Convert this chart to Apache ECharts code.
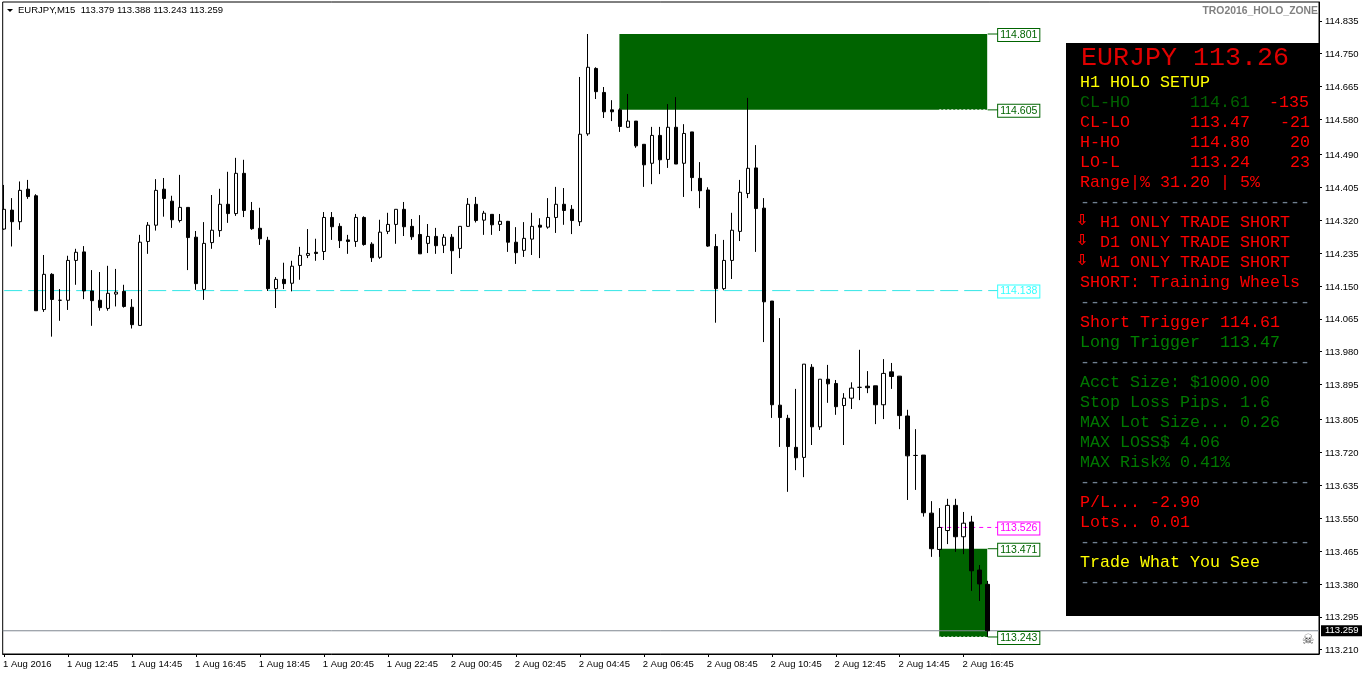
<!DOCTYPE html>
<html><head><meta charset="utf-8">
<style>html,body{margin:0;padding:0;background:#fff}#c{width:1362px;height:675px}</style>
<script src="https://cdn.jsdelivr.net/npm/echarts@6/dist/echarts.min.js"></script>
</head><body><div id="c"></div>
<script>
const opens=[114.297,114.346,114.316,114.400,114.383,114.089,114.180,114.113,114.113,114.216,114.238,114.137,114.113,114.092,114.129,114.136,114.095,114.048,114.265,114.307,114.400,114.369,114.319,114.353,114.276,114.141,114.262,114.293,114.361,114.337,114.441,114.345,114.299,114.268,114.143,114.167,114.157,114.203,114.229,114.237,114.239,114.327,114.304,114.269,114.265,114.327,114.258,114.224,114.291,114.309,114.348,114.304,114.283,114.260,114.278,114.255,114.276,114.247,114.304,114.361,114.320,114.335,114.309,114.317,114.263,114.242,114.271,114.307,114.302,114.327,114.361,114.348,114.316,114.543,114.712,114.650,114.605,114.605,114.560,114.576,114.516,114.467,114.539,114.477,114.560,114.467,114.548,114.428,114.398,114.252,114.143,114.216,114.291,114.389,114.455,114.351,114.111,113.842,113.808,113.733,113.707,113.940,113.786,113.909,113.898,113.841,113.860,113.888,113.891,113.892,113.843,113.928,113.917,113.814,113.712,113.713,113.563,113.469,113.518,113.583,113.502,113.540,113.416,113.379];
const highs=[114.411,114.377,114.420,114.424,114.387,114.230,114.183,114.142,114.228,114.246,114.253,114.191,114.186,114.202,114.194,114.153,114.116,114.282,114.315,114.426,114.429,114.383,114.437,114.353,114.292,114.315,114.385,114.401,114.445,114.481,114.476,114.367,114.352,114.277,114.173,114.210,114.215,114.251,114.297,114.272,114.341,114.341,114.312,114.282,114.336,114.330,114.263,114.321,114.339,114.348,114.367,114.323,114.333,114.310,114.300,114.284,114.284,114.304,114.377,114.380,114.344,114.335,114.336,114.318,114.302,114.315,114.339,114.325,114.377,114.406,114.403,114.359,114.690,114.801,114.715,114.664,114.630,114.609,114.646,114.576,114.516,114.561,114.561,114.620,114.638,114.568,114.548,114.470,114.405,114.284,114.269,114.339,114.424,114.636,114.514,114.377,114.111,114.067,113.817,113.884,113.948,113.948,113.909,113.946,113.907,113.873,113.901,113.985,113.930,113.892,113.961,113.951,113.917,113.830,113.780,113.713,113.594,113.576,113.600,113.600,113.566,113.556,113.429,113.388];
const lows=[114.295,114.252,114.295,114.375,114.086,114.083,114.019,114.060,114.088,114.153,114.116,114.047,114.086,114.086,114.097,114.094,114.040,114.048,114.233,114.293,114.329,114.300,114.314,114.191,114.140,114.114,114.246,114.277,114.313,114.331,114.328,114.295,114.256,114.137,114.093,114.142,114.136,114.166,114.222,114.215,114.217,114.269,114.248,114.233,114.251,114.254,114.212,114.220,114.284,114.259,114.279,114.269,114.233,114.235,114.233,114.235,114.181,114.222,114.303,114.314,114.282,114.282,114.292,114.238,114.207,114.225,114.230,114.222,114.298,114.287,114.308,114.284,114.305,114.538,114.633,114.584,114.576,114.548,114.558,114.507,114.406,114.413,114.439,114.455,114.465,114.380,114.395,114.351,114.251,114.055,114.139,114.168,114.266,114.377,114.238,114.005,113.809,113.734,113.618,113.674,113.656,113.739,113.778,113.848,113.817,113.739,113.832,113.855,113.873,113.793,113.806,113.884,113.780,113.597,113.623,113.554,113.450,113.450,113.483,113.463,113.457,113.362,113.336,113.243];
const closes=[114.348,114.316,114.397,114.381,114.086,114.180,114.115,114.113,114.216,114.237,114.137,114.112,114.094,114.131,114.134,114.097,114.050,114.263,114.307,114.397,114.376,114.321,114.353,114.275,114.156,114.260,114.294,114.361,114.337,114.441,114.345,114.298,114.272,114.143,114.167,114.156,114.201,114.229,114.234,114.234,114.327,114.303,114.267,114.265,114.327,114.257,114.223,114.289,114.309,114.348,114.303,114.277,114.233,114.278,114.254,114.276,114.241,114.304,114.361,114.319,114.338,114.308,114.317,114.263,114.236,114.273,114.304,114.302,114.327,114.361,114.345,114.319,114.542,114.715,114.652,114.600,114.600,114.562,114.576,114.512,114.463,114.539,114.476,114.560,114.465,114.544,114.430,114.396,114.253,114.143,114.216,114.294,114.392,114.454,114.350,114.109,113.843,113.810,113.735,113.706,113.948,113.786,113.909,113.897,113.838,113.860,113.886,113.888,113.887,113.843,113.924,113.916,113.815,113.711,113.712,113.564,113.471,113.526,113.583,113.502,113.537,113.414,113.380,113.259];
const timeLabels=["1 Aug 2016","1 Aug 12:45","1 Aug 14:45","1 Aug 16:45","1 Aug 18:45","1 Aug 20:45","1 Aug 22:45","2 Aug 00:45","2 Aug 02:45","2 Aug 04:45","2 Aug 06:45","2 Aug 08:45","2 Aug 10:45","2 Aug 12:45","2 Aug 14:45","2 Aug 16:45"];
const barsPerLabel=8;
const priceTicks=[114.835,114.750,114.665,114.580,114.490,114.405,114.320,114.235,114.150,114.065,113.980,113.895,113.805,113.720,113.635,113.550,113.465,113.380,113.295,113.210];
const zoneHigh=[114.801,114.605], zoneLow=[113.471,113.243];
const zoneHighStart=76.94, zoneLowStart=116.94, zoneEnd=122.94, lastBar=123;
const pivotLevel=114.138, triggerLevel=113.526, lastPrice=113.259;
const headerText="EURJPY,M15  113.379 113.388 113.243 113.259";
const indicatorName="TRO2016_HOLO_ZONE";
const panelTitle="EURJPY 113.26";
const panelLines=["H1 HOLO SETUP","CL-HO      114.61","CL-LO      113.47   -21","H-HO       114.80    20","LO-L       113.24    23","Range|% 31.20 | 5%","-----------------------","  H1 ONLY TRADE SHORT","  D1 ONLY TRADE SHORT","  W1 ONLY TRADE SHORT","SHORT: Training Wheels","-----------------------","Short Trigger 114.61","Long Trigger  113.47","-----------------------","Acct Size: $1000.00","Stop Loss Pips. 1.6","MAX Lot Size... 0.26","MAX LOSS$ 4.06","MAX Risk% 0.41%","-----------------------","P/L... -2.90","Lots.. 0.01","-----------------------","Trade What You See","-----------------------"];
const panelColours=["#ffff00","#006400","#ff0000","#ff0000","#ff0000","#ff0000","#708090","#ff0000","#ff0000","#ff0000","#ff0000","#708090","#ff0000","#008000","#708090","#007800","#007800","#007800","#007800","#007800","#708090","#ff0000","#ff0000","#708090","#ffff00","#708090"];
const holoDiff="-135";
const arrowRows=[7,8,9];

const xMin=-0.1875, xMax=164.4375, labelX=124.31;
const UI="'Liberation Sans',sans-serif", MONO="'Liberation Mono',monospace";
const candles=opens.map((o,i)=>[i,o,closes[i],lows[i],highs[i]]);
const GREEN='#006400';
const tickShift=0.0026;
function boxLabel(text,col,txt){return {show:true,distance:0,offset:[0,1],align:'left',verticalAlign:'middle',formatter:text,color:txt||col,borderColor:col,borderWidth:1,backgroundColor:'#fff',fontFamily:UI,fontSize:10.5,padding:[0,2,0,2],lineHeight:12};}
function level(name,from,to,p,col,dash,width,label){
  const s={name,type:'line',z:1,silent:true,clip:false,symbol:'none',animation:false,
    lineStyle:{color:col,width:width||1,type:dash||'solid'},data:[[from,p],[to,p]]};
  if(label) s.endLabel=label;
  return s;
}
function dotted(name,p){return {name,type:'line',z:1.5,silent:true,symbol:'none',animation:false,lineStyle:{color:'#fff',width:1,type:[2,2]},data:[[zoneLowStart,p],[zoneEnd,p]]};}
const fix=v=>v.toFixed(3);
const series=[
 {name:'zones',type:'line',z:0,data:[],markArea:{silent:true,z:0,itemStyle:{color:GREEN,opacity:1},
   data:[[{xAxis:zoneHighStart,yAxis:zoneHigh[0]},{xAxis:zoneEnd,yAxis:zoneHigh[1]}],[{xAxis:zoneLowStart,yAxis:zoneLow[0]},{xAxis:zoneEnd,yAxis:zoneLow[1]}]]}},
 level('pivot',0,labelX,pivotLevel,'#33e6e6',[18,6],1,boxLabel(fix(pivotLevel),'#33ffff')),
 level('current',xMin,xMax,lastPrice,'#7f8790',null,1,{show:true,distance:2,align:'left',verticalAlign:'middle',formatter:fix(lastPrice),color:'#fff',backgroundColor:'#000',fontFamily:UI,fontSize:9.5,lineHeight:9,padding:[1,4,1,4]}),
 level('trigger',zoneLowStart,labelX,triggerLevel,'#ff00ff',[4,4],1,boxLabel(fix(triggerLevel),'#ff00ff')),
 level('hi1',lastBar,labelX,zoneHigh[0],GREEN,null,1,boxLabel(fix(zoneHigh[0]),GREEN)),
 level('hi2',lastBar,labelX,zoneHigh[1],GREEN,null,1,boxLabel(fix(zoneHigh[1]),GREEN)),
 level('lo1',lastBar,labelX,zoneLow[0],GREEN,null,1,boxLabel(fix(zoneLow[0]),GREEN)),
 level('lo2',lastBar,labelX,zoneLow[1],GREEN,null,1,boxLabel(fix(zoneLow[1]),GREEN)),
 dotted('dotHi',zoneHigh[1]),dotted('dotLo',zoneLow[1]),
 {name:'EURJPY',type:'candlestick',z:2,silent:true,animation:false,barWidth:4,
  encode:{x:0,y:[1,2,3,4]},
  itemStyle:{color:'rgba(255,255,255,0)',color0:'#000',borderColor:'#000',borderColor0:'#000',borderColorDoji:'#000',borderWidth:1},
  data:candles}
];
function txt(x,y,text,fill,font,align,z){return {type:'text',z:z||50,x,y,style:{text,fill,font,align:align||'left',verticalAlign:'middle'}};}
const g=[];
g.push({type:'polygon',z:50,shape:{points:[[7,9],[13,9],[10,12]]},style:{fill:'#000'}});
g.push(txt(18,10.5,headerText,'#000',"9.5px "+UI));
g.push(txt(1318,11,indicatorName,'#808080',"bold 10.4px "+UI,'right'));
g.push({type:'rect',z:50,shape:{x:1066,y:43,width:253,height:573},style:{fill:'#000'}});
g.push(txt(1081,58,panelTitle,'#e00000',"26.67px "+MONO,'left',51));
panelLines.forEach((t,k)=>{g.push(txt(1080,82.7+20*k,t,panelColours[k],"16.67px "+MONO,'left',51));});
g.push(txt(1309,102.7,holoDiff,'#ff0000',"16.67px "+MONO,'right',51));
arrowRows.forEach(k=>{g.push(txt(1076,81+20*k,'\u21E9','#ff0000',"bold 15px 'DejaVu Sans'",'left',51));});
g.push(txt(1308,640,'\u2620','#444',"14px 'DejaVu Sans'",'center',51));

const chart=echarts.init(document.getElementById('c'));
chart.setOption({
 animation:false,backgroundColor:'#fff',
 grid:{left:2,top:2,width:1317,height:652,show:true,borderColor:'#000',borderWidth:1,backgroundColor:'#fff',containLabel:false},
 xAxis:{type:'value',min:xMin,max:xMax,scale:true,splitLine:{show:false},
  axisLine:{show:true,onZero:false,lineStyle:{color:'#000'}},
  axisTick:{show:true,length:3,customValues:timeLabels.map((_,k)=>k*barsPerLabel),lineStyle:{color:'#000'}},
  axisLabel:{show:true,customValues:timeLabels.map((_,k)=>k*barsPerLabel-0.15),formatter:v=>timeLabels[Math.round(v/barsPerLabel)],color:'#000',fontFamily:UI,fontSize:9.5,margin:5,align:'left',hideOverlap:false}},
 yAxis:{type:'value',position:'right',min:113.199,max:114.8837,scale:true,splitLine:{show:false},
  axisLine:{show:true,onZero:false,lineStyle:{color:'#000'}},
  axisTick:{show:true,length:3,customValues:priceTicks,lineStyle:{color:'#000'}},
  axisLabel:{show:true,customValues:priceTicks.map(p=>p-tickShift),formatter:v=>(v+tickShift).toFixed(3),color:'#000',fontFamily:UI,fontSize:9.5,margin:6,hideOverlap:false}},
 series,graphic:g
});
</script></body></html>
